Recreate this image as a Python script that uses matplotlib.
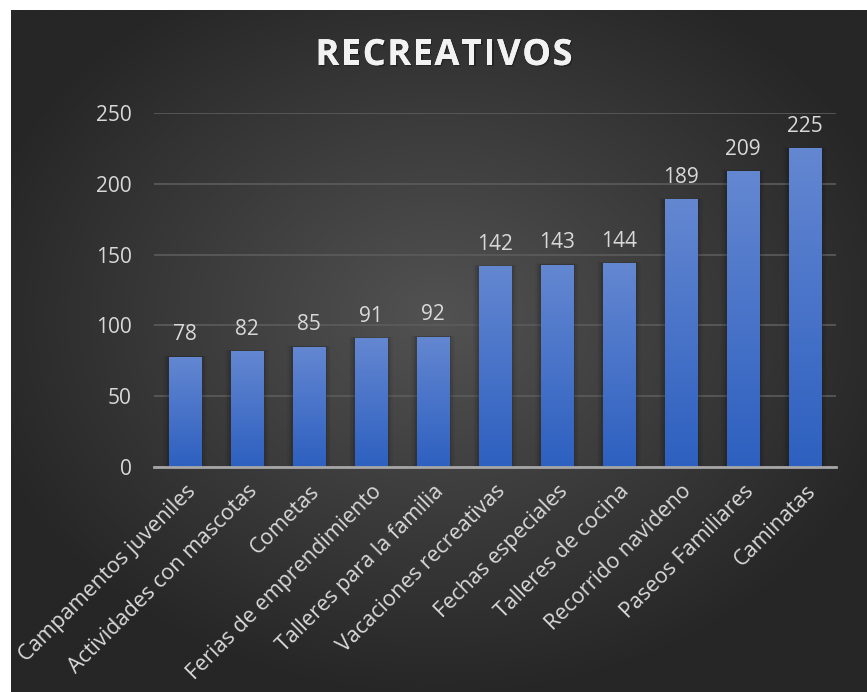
import numpy as np
import matplotlib
matplotlib.use("Agg")
import matplotlib.pyplot as plt
import matplotlib.patheffects as pe
from matplotlib.patches import Rectangle

plt.rcParams['font.family'] = ['Open Sans', 'DejaVu Sans']

# datos del grafico
categorias = ["Campamentos juveniles", "Actividades con mascotas", "Cometas",
              "Ferias de emprendimiento", "Talleres para la familia",
              "Vacaciones recreativas", "Fechas especiales", "Talleres de cocina",
              "Recorrido navideno", "Paseos Familiares", "Caminatas"]
valores = [78, 82, 85, 91, 92, 142, 143, 144, 189, 209, 225]
ticks_y = [0, 50, 100, 150, 200, 250]
titulo = "RECREATIVOS"

W, H = 867, 692
fig = plt.figure(figsize=(W / 100, H / 100), dpi=100)
fig.patch.set_facecolor("white")

# fondo oscuro con degradado radial
bg = fig.add_axes([11 / W, 0, 1 - 11 / W, 1 - 10 / H])
bg.set_axis_off()
yy, xx = np.mgrid[0:1:300j, 0:1:300j]
r = np.sqrt(((xx - 0.5) / 0.75) ** 2 + ((yy - 0.55) / 0.75) ** 2)
r = np.clip(r / 0.75, 0, 1)
c0 = np.array([0x52, 0x52, 0x52]) / 255
c1 = np.array([0x26, 0x26, 0x26]) / 255
img = c0[None, None, :] * (1 - r[..., None]) + c1[None, None, :] * r[..., None]
bg.imshow(img, extent=[0, 1, 0, 1], aspect="auto", origin="lower")
bg.set_xlim(0, 1)
bg.set_ylim(0, 1)

ax = fig.add_axes([154 / W, (H - 467) / H, (836 - 154) / W, (467 - 113) / H])
ax.patch.set_alpha(0)
x = np.arange(len(categorias))
ancho = 0.52

# sombra de las barras
for xi, v in zip(x, valores):
    for k, a in enumerate([0.10, 0.07, 0.04]):
        d = 0.03 * (k + 1)
        ax.add_patch(Rectangle((xi - ancho / 2 - d, 0), ancho + 2 * d, v + d * 8,
                               color="black", alpha=a, lw=0, zorder=1))

bars = ax.bar(x, valores, width=ancho, color="none", zorder=2)
grad = np.linspace(0, 1, 256)[:, None]
top = np.array([0x64, 0x87, 0xD1]) / 255
bot = np.array([0x2D, 0x60, 0xC0]) / 255
gimg = bot[None, None, :] * (1 - grad[..., None]) + top[None, None, :] * grad[..., None]
for b in bars:
    bx, by = b.get_x(), b.get_y()
    bw, bh = b.get_width(), b.get_height()
    im = ax.imshow(gimg, extent=[bx, bx + bw, by, by + bh], origin="lower",
                   aspect="auto", zorder=2)
    im.set_clip_path(b)

for xi, v in zip(x, valores):
    ax.text(xi, v + 8, str(v), ha="center", va="bottom", color="#d9d9d9",
            fontsize=15, zorder=4)

ax.set_xlim(-0.5, len(categorias) - 0.5)
ax.set_ylim(0, 250)
ax.set_yticks(ticks_y)
ax.set_yticklabels([str(t) for t in ticks_y], color="#d9d9d9", fontsize=15)
ax.yaxis.grid(True, color="#5c5c5c", lw=1.2)
ax.set_axisbelow(True)
ax.tick_params(axis="y", length=0, pad=16)
ax.tick_params(axis="x", length=0, pad=10)
for s in ["top", "right", "left"]:
    ax.spines[s].set_visible(False)
ax.spines["bottom"].set_color("#a6a6a6")
ax.spines["bottom"].set_linewidth(2)
ax.spines["bottom"].set_zorder(5)

ax.set_xticks(x)
ax.set_xticklabels(categorias, rotation=45, ha="right", rotation_mode="anchor",
                   color="#d9d9d9", fontsize=15.5)

# titulo con espaciado entre letras
renderer = fig.canvas.get_renderer()
sombra = [pe.withSimplePatchShadow(offset=(1, -1), shadow_rgbFace="black", alpha=0.3),
          pe.Normal()]
letras = []
for ch in titulo:
    t = fig.text(0, 1 - 56 / H, ch, ha="left", va="center", color="#f2f2f2",
                 fontsize=26, fontweight="bold", path_effects=sombra)
    letras.append(t)
espacio = 1.6
anchos = [t.get_window_extent(renderer).width for t in letras]
total = sum(anchos) + espacio * (len(letras) - 1)
xpos = 444 - total / 2
for t, w in zip(letras, anchos):
    t.set_x(xpos / W)
    xpos += w + espacio

fig.savefig("out.png", dpi=100, facecolor=fig.get_facecolor())
